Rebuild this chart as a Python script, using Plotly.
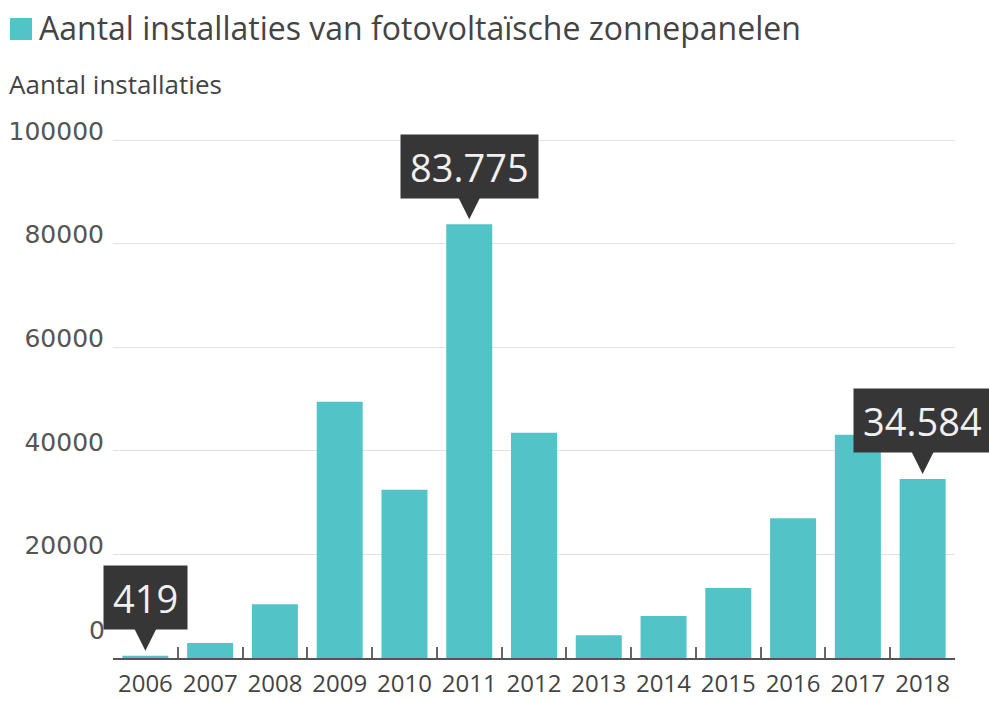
import plotly.graph_objects as go

years = ["2006", "2007", "2008", "2009", "2010", "2011", "2012",
         "2013", "2014", "2015", "2016", "2017", "2018"]
installaties = [419, 2900, 10400, 49500, 32500, 83775, 43500,
                4400, 8100, 13500, 27000, 43100, 34584]
highlight_years = ["2006", "2011", "2018"]
y_ticks = [20000, 40000, 60000, 80000, 100000]
y_max = 101000

title_text = "Aantal installaties van fotovoltaïsche zonnepanelen"
subtitle_text = "Aantal installaties"

BAR = "#52c3c7"
BOX = "#363636"
W, H = 989, 701
L, R, B = 113, 34, 43
T = round(H - B - 518 * y_max / 100000)
PW, PH = W - L - R, H - T - B

def px_x(px):
    return (px - L) / PW

def px_y(py):
    return (H - B - py) / PH

fig = go.Figure(go.Bar(x=years, y=installaties, marker_color=BAR,
                       marker_line_width=0, showlegend=False,
                       hoverinfo="skip"))

annotations = []
for i, (yr, v) in enumerate(zip(years, installaties)):
    if yr in highlight_years:
        annotations.append(dict(
            x=i, y=v, xref="x", yref="y",
            text=f"{v:,}".replace(",", "."),
            font=dict(family="Open Sans", size=38, color="#f0f0f0"),
            bgcolor=BOX, borderpad=9, height=45,
            showarrow=True, arrowhead=2, arrowwidth=2, arrowsize=2.2,
            arrowcolor=BOX, ax=0, ay=-58, standoff=5,
        ))

annotations.append(dict(
    x=px_x(7), y=px_y(84), xref="paper", yref="paper",
    xanchor="left", yanchor="middle", showarrow=False,
    text=subtitle_text,
    font=dict(family="Open Sans", size=26, color="#444444"),
))
annotations.append(dict(
    x=0, y=0, xref="paper", yref="y", xanchor="right", yanchor="middle",
    xshift=-6, yshift=28, showarrow=False, text="0",
    font=dict(family="DejaVu Sans", size=25, color="#555555"),
))

shapes = [dict(type="rect", xref="paper", yref="paper",
               x0=px_x(10), x1=px_x(32), y0=px_y(40), y1=px_y(18),
               fillcolor=BAR, line=dict(width=0))]

fig.update_layout(
    width=W, height=H,
    margin=dict(l=L, r=R, t=T, b=B),
    paper_bgcolor="white", plot_bgcolor="white",
    bargap=0.29,
    title=dict(
        text=title_text,
        x=39 / W, xanchor="left", xref="container",
        y=1 - 29 / H, yanchor="middle", yref="container",
        font=dict(family="Open Sans", size=32, color="#444444"),
    ),
    annotations=annotations,
    shapes=shapes,
    xaxis=dict(
        type="category", categoryorder="array", categoryarray=years,
        range=[-0.5, len(years) - 0.5], automargin=False,
        tickson="boundaries", ticks="inside",
        ticklen=11, tickwidth=1.5, tickcolor="#666666",
        showline=True, linecolor="#555555", linewidth=2,
        showgrid=False, tickangle=0,
        tickfont=dict(family="Open Sans", size=24, color="#444444"),
        ticklabelstandoff=3,
    ),
    yaxis=dict(
        range=[0, y_max], tickvals=y_ticks, ticktext=[str(t) for t in y_ticks],
        automargin=False,
        showgrid=True, gridcolor="#e2e2e2", gridwidth=1,
        zeroline=False, showline=False, ticks="",
        tickfont=dict(family="DejaVu Sans", size=25, color="#555555"),
        ticklabelshift=-9, ticklabelstandoff=8,
    ),
)

fig.write_html("out.html")
